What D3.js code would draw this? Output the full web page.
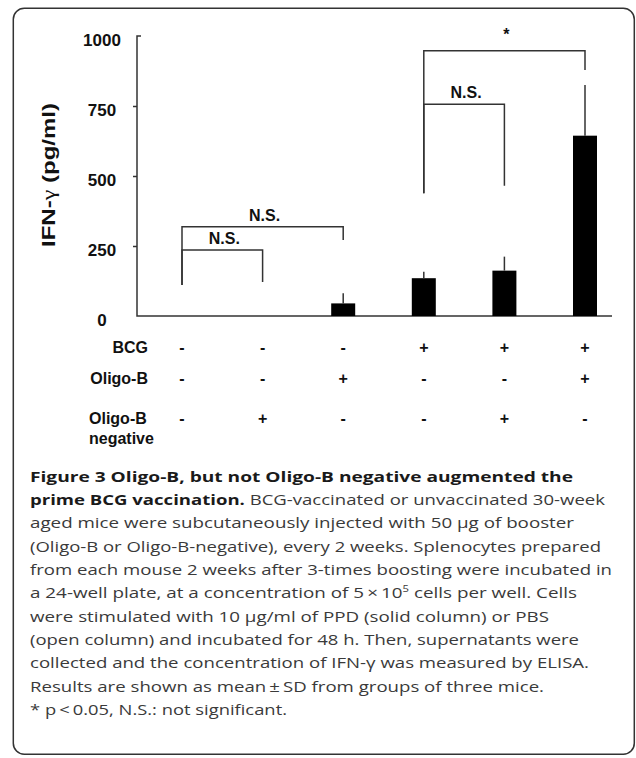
<!DOCTYPE html>
<html>
<head>
<meta charset="utf-8">
<script src="https://cdn.jsdelivr.net/npm/d3@7"></script>
<style>
  html, body { margin: 0; padding: 0; background: #fff; }
  svg { display: block; }
</style>
</head>
<body>
<svg id="fig" width="636" height="758"></svg>
<script>
// groups along the x axis (left to right)
var groups = ["none", "Oligo-B negative", "Oligo-B", "BCG", "BCG + Oligo-B negative", "BCG + Oligo-B"];
// IFN-gamma mean and SD (pg/ml)
var meanValues = [0, 0, 45, 135, 162, 644];
var sdValues = [0, 0, 36, 23, 50, 181];
var yTicks = [0, 250, 500, 750, 1000];

// treatment table under the axis
var rowLabels = ["BCG", "Oligo-B", "Oligo-B negative"];
var bcgSigns = ["-", "-", "-", "+", "+", "+"];
var oligoSigns = ["-", "-", "+", "-", "-", "+"];
var negativeSigns = ["-", "+", "-", "-", "+", "-"];

// comparison brackets: group indexes, bracket top and leg ends (pg/ml)
var bracketFrom = [0, 0, 3, 3];
var bracketTo = [1, 2, 4, 5];
var bracketTop = [236, 319, 756, 947];
var bracketLeftEnd = [111, 111, 438, 438];
var bracketRightEnd = [121, 271, 465, 879];
var bracketLabels = ["N.S.", "N.S.", "N.S.", "*"];

var svg = d3.select("#fig");
var ink = "#333";
var chartFont = "'Liberation Sans', Arial, sans-serif";

/* frame round the whole figure */
svg.append("rect")
    .attr("x", 13.3).attr("y", 8.3)
    .attr("width", 621).attr("height", 746)
    .attr("rx", 11).attr("ry", 11)
    .attr("fill", "none").attr("stroke", ink).attr("stroke-width", 1.5);

var x = d3.scalePoint().domain(groups).range([182, 585]);
var y = d3.scaleLinear().domain([0, 1000]).range([316, 36]);
var axisX = 137, barW = 24;

var chart = svg.append("g").attr("font-family", chartFont);

// y axis: inner ticks from d3, domain drawn by hand (top tick points right)
var yAxis = chart.append("g")
    .attr("transform", "translate(" + axisX + ",0)")
    .call(d3.axisLeft(y).tickValues([250, 500, 750]).tickSize(4).tickFormat(""));
yAxis.select(".domain").remove();
yAxis.selectAll(".tick line").attr("stroke", ink).attr("stroke-width", 1.5);

chart.append("path")
    .attr("d", "M" + (axisX + 4) + "," + y(1000) + "H" + axisX + "V" + y(0) + "H612")
    .attr("fill", "none").attr("stroke", ink).attr("stroke-width", 1.5);

chart.selectAll("text.ytick")
    .data(yTicks)
    .enter().append("text")
    .attr("class", "ytick")
    .attr("x", 102)
    .attr("y", function (d) { return y(d) + 4; })
    .attr("dy", "0.35em")
    .attr("text-anchor", "middle")
    .attr("font-size", 17).attr("font-weight", "bold").attr("fill", "#111")
    .text(function (d) { return d; });

var yTitle = chart.append("text")
    .attr("transform", "translate(55,175) rotate(-90)")
    .attr("text-anchor", "middle")
    .attr("font-size", 19).attr("font-weight", "bold").attr("fill", "#111")
    .attr("textLength", 144).attr("lengthAdjust", "spacingAndGlyphs");
yTitle.append("tspan").text("IFN-");
yTitle.append("tspan").attr("font-family", "'Liberation Serif', serif").attr("font-weight", "normal").text("\u03b3");
yTitle.append("tspan").text(" (pg/ml)");

/* bars and SD whiskers */
var barData = groups.map(function (g, i) { return { g: g, mean: meanValues[i], sd: sdValues[i] }; })
    .filter(function (d) { return d.mean > 0; });

chart.selectAll("rect.bar")
    .data(barData)
    .enter().append("rect")
    .attr("class", "bar")
    .attr("x", function (d) { return x(d.g) - barW / 2; })
    .attr("y", function (d) { return y(d.mean); })
    .attr("width", barW)
    .attr("height", function (d) { return y(0) - y(d.mean); })
    .attr("fill", "#000");

chart.selectAll("line.sd")
    .data(barData)
    .enter().append("line")
    .attr("class", "sd")
    .attr("x1", function (d) { return x(d.g); })
    .attr("x2", function (d) { return x(d.g); })
    .attr("y1", function (d) { return y(d.mean); })
    .attr("y2", function (d) { return y(d.mean + d.sd); })
    .attr("stroke", ink).attr("stroke-width", 1.5);

/* significance brackets */
var bracketData = bracketLabels.map(function (lab, i) {
    return { a: groups[bracketFrom[i]], b: groups[bracketTo[i]], top: bracketTop[i],
             l: bracketLeftEnd[i], r: bracketRightEnd[i], label: lab };
});

chart.selectAll("path.bracket")
    .data(bracketData)
    .enter().append("path")
    .attr("class", "bracket")
    .attr("d", function (d) {
        return "M" + x(d.a) + "," + y(d.l) + "V" + y(d.top) + "H" + x(d.b) + "V" + y(d.r);
    })
    .attr("fill", "none").attr("stroke", ink).attr("stroke-width", 1.5);

chart.selectAll("text.sig")
    .data(bracketData)
    .enter().append("text")
    .attr("class", "sig")
    .attr("x", function (d) { return (x(d.a) + x(d.b)) / 2 + 2; })
    .attr("y", function (d) { return y(d.top) - (d.label === "*" ? 11 : 6); })
    .attr("text-anchor", "middle")
    .attr("font-size", 16).attr("font-weight", "bold").attr("fill", "#111")
    .text(function (d) { return d.label; });

/* treatment table */
var rowBaselines = [352.7, 383.5, 424];
var rowSigns = [bcgSigns, oligoSigns, negativeSigns];

rowLabels.forEach(function (lab, r) {
    var t = chart.append("text")
        .attr("font-size", 16).attr("font-weight", "bold").attr("fill", "#111");
    if (lab === "Oligo-B negative") {
        t.attr("x", 89).attr("y", rowBaselines[r]).text("Oligo-B");
        chart.append("text")
            .attr("x", 89).attr("y", rowBaselines[r] + 20)
            .attr("font-size", 16).attr("font-weight", "bold").attr("fill", "#111")
            .text("negative");
    } else {
        t.attr("x", 148).attr("y", rowBaselines[r]).attr("text-anchor", "end").text(lab);
    }
    chart.selectAll("text.sign" + r)
        .data(rowSigns[r])
        .enter().append("text")
        .attr("class", "sign" + r)
        .attr("x", function (d, i) { return x(groups[i]); })
        .attr("y", rowBaselines[r])
        .attr("text-anchor", "middle")
        .attr("font-size", 16).attr("font-weight", "bold").attr("fill", "#111")
        .text(function (d) { return d; });
});

/* figure caption */
var captionLines = [
    [{ t: "Figure 3 Oligo-B, but not Oligo-B negative augmented the", b: true }],
    [{ t: "prime BCG vaccination.", b: true }, { t: " BCG-vaccinated or unvaccinated 30-week" }],
    [{ t: "aged mice were subcutaneously injected with 50 \u00b5g of booster" }],
    [{ t: "(Oligo-B or Oligo-B-negative), every 2 weeks. Splenocytes prepared" }],
    [{ t: "from each mouse 2 weeks after 3-times boosting were incubated in" }],
    [{ t: "a 24-well plate, at a concentration of 5\u2009\u00d7\u200910" }, { t: "5", sup: true }, { t: " cells per well. Cells" }],
    [{ t: "were stimulated with 10 \u00b5g/ml of PPD (solid column) or PBS" }],
    [{ t: "(open column) and incubated for 48 h. Then, supernatants were" }],
    [{ t: "collected and the concentration of IFN-\u03b3 was measured by ELISA." }],
    [{ t: "Results are shown as mean\u2009\u00b1\u2009SD from groups of three mice." }],
    [{ t: "* p\u2009<\u20090.05, N.S.: not significant." }]
];
var captionWidths = [543, 575, 544, 571, 582, 547, 519, 549, 559, 514, 257];

var caption = svg.append("g").attr("font-family", "'Open Sans', sans-serif").attr("font-size", 15);
captionLines.forEach(function (segs, i) {
    var line = caption.append("text")
        .attr("x", 30)
        .attr("y", 481.7 + i * 23.33)
        .attr("textLength", captionWidths[i])
        .attr("lengthAdjust", "spacingAndGlyphs");
    segs.forEach(function (s) {
        var sp = line.append("tspan")
            .attr("font-weight", s.b ? "bold" : "normal")
            .attr("fill", s.b ? "#1a1a1a" : "#3a3a3a")
            .text(s.t);
        if (s.sup) {
            sp.attr("font-size", 9).attr("dy", -6);
        }
    });
    // return to the baseline after a superscript
    line.selectAll("tspan").filter(function (d, k) {
        return k > 0 && segs[k - 1].sup;
    }).attr("dy", 6);
});
</script>
</body>
</html>
